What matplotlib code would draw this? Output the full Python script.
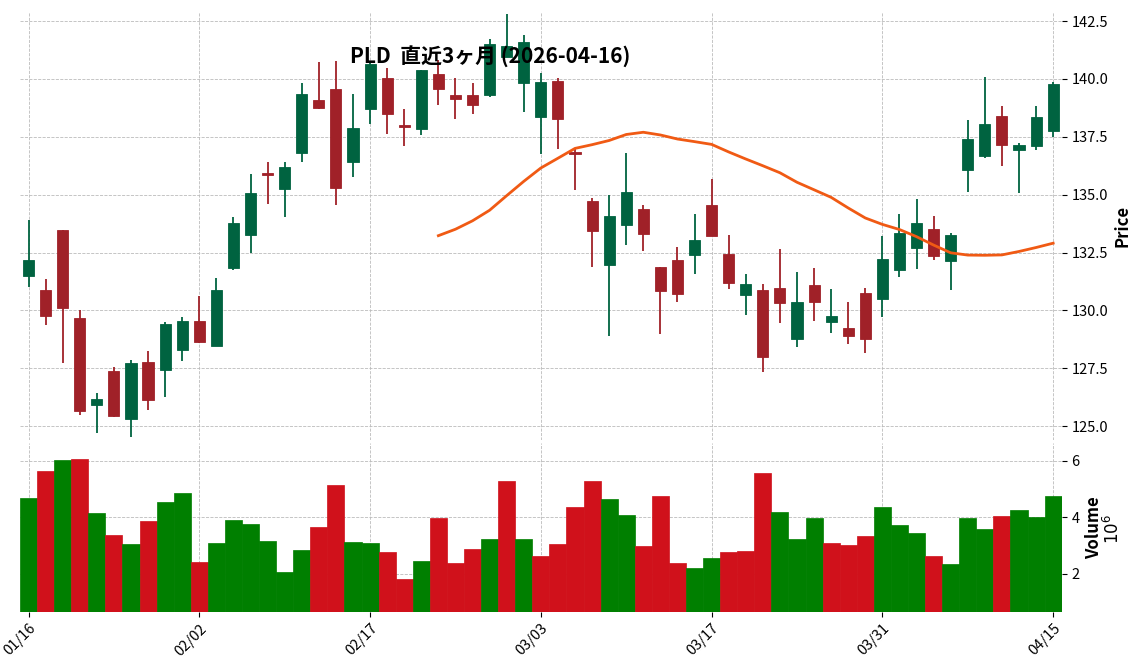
import numpy as np
import pandas as pd
import matplotlib
matplotlib.use("Agg")
import matplotlib.pyplot as plt

plt.rcParams['font.family'] = ['Noto Sans CJK JP', 'DejaVu Sans']

tick_pos = [0, 10, 20, 30, 40, 50, 60]
tick_labels = ["01/16", "02/02", "02/17", "03/03", "03/17", "03/31", "04/15"]

opens = [131.48, 130.88, 133.47, 129.66, 125.90, 127.38, 125.30, 127.76, 127.42, 128.28,
         129.54, 128.45, 131.83, 133.25, 135.92, 135.24, 136.80, 139.09, 139.56, 136.40,
         138.70, 140.04, 138.00, 137.83, 140.21, 139.30, 139.30, 139.30, 140.94, 139.82,
         138.35, 139.90, 136.84, 134.72, 131.96, 133.68, 134.38, 131.87, 132.17, 132.39,
         134.55, 132.43, 130.66, 130.88, 130.96, 128.76, 131.09, 129.49, 129.23, 130.75,
         130.49, 131.74, 132.69, 133.51, 132.13, 136.06, 136.67, 138.39, 136.93, 137.10,
         137.75]
closes = [132.17, 129.75, 130.10, 125.65, 126.17, 125.43, 127.72, 126.12, 129.40, 129.54,
          128.63, 130.88, 133.77, 135.07, 135.86, 136.19, 139.35, 138.74, 135.28, 137.88,
          140.64, 138.48, 137.92, 140.38, 139.56, 139.13, 138.87, 141.50, 141.42, 141.60,
          139.86, 138.26, 136.75, 133.42, 134.07, 135.11, 133.30, 130.83, 130.70, 133.04,
          133.21, 131.18, 131.13, 127.98, 130.31, 130.36, 130.36, 129.75, 128.89, 128.76,
          132.21, 133.34, 133.77, 132.34, 133.25, 137.40, 138.05, 137.14, 137.14, 138.35,
          139.78]
highs = [133.90, 131.35, 133.47, 130.00, 126.42, 127.55, 127.85, 128.24, 129.50, 129.70,
         130.60, 131.40, 134.03, 135.89, 136.40, 136.40, 139.82, 140.73, 140.77, 139.35,
         140.73, 140.47, 138.70, 140.38, 140.81, 140.04, 139.82, 141.72, 142.80, 141.90,
         140.25, 140.04, 136.97, 134.85, 134.98, 136.80, 134.55, 131.87, 132.73, 134.16,
         135.67, 133.25, 131.57, 131.13, 132.65, 131.65, 131.83, 130.92, 130.36, 130.96,
         133.21, 134.16, 134.81, 134.07, 133.34, 138.22, 140.08, 138.83, 137.23, 138.83,
         139.86]
lows = [131.00, 129.36, 127.72, 125.47, 124.70, 125.38, 124.52, 125.70, 126.25, 127.80,
        128.58, 128.45, 131.74, 132.47, 134.60, 134.03, 136.40, 138.70, 134.55, 135.76,
        138.05, 137.62, 137.10, 137.57, 138.87, 138.26, 138.48, 139.22, 140.94, 138.57,
        136.75, 136.97, 135.20, 131.87, 128.89, 132.82, 132.56, 128.97, 130.36, 131.57,
        133.21, 130.92, 129.79, 127.33, 129.45, 128.41, 129.54, 129.02, 128.54, 128.15,
        129.71, 131.44, 131.78, 132.17, 130.88, 135.11, 136.58, 136.23, 135.07, 136.93,
        137.49]
volumes = [4.69, 5.65, 6.04, 6.07, 4.16, 3.38, 3.06, 3.88, 4.55, 4.87,
           2.42, 3.10, 3.91, 3.77, 3.17, 2.07, 2.85, 3.66, 5.15, 3.13,
           3.10, 2.78, 1.82, 2.46, 3.98, 2.39, 2.88, 3.24, 5.29, 3.24,
           2.64, 3.06, 4.37, 5.29, 4.65, 4.09, 2.99, 4.76, 2.39, 2.21,
           2.57, 2.78, 2.81, 5.58, 4.19, 3.24, 3.98, 3.10, 3.03, 3.35,
           4.37, 3.73, 3.45, 2.64, 2.35, 3.98, 3.59, 4.05, 4.27, 4.02,
           4.76]

o = np.array(opens); c = np.array(closes); h = np.array(highs); l = np.array(lows)
x = np.arange(len(o))
mav = pd.Series(c).rolling(25).mean()

up_c, dn_c = '#006340', '#a02128'
fig = plt.figure(figsize=(11.41, 6.70), dpi=100)
ax = fig.add_axes([0.0175, 0.343, 0.913, 0.639])
axv = fig.add_axes([0.0175, 0.087, 0.913, 0.252], sharex=ax)

up = c >= o
cols = np.where(up, up_c, dn_c)
ax.vlines(x, l, h, colors=cols, linewidth=1.3, zorder=2)
ax.bar(x, np.abs(c - o), bottom=np.minimum(o, c), width=0.65, color=cols,
       edgecolor=cols, linewidth=0.6, zorder=3)
ax.plot(x, mav, color='#f05a14', linewidth=2, zorder=4)
ax.set_ylim(124.39, 142.89)
ax.set_xlim(-0.5, len(x) - 0.5)

prev = np.concatenate([[c[0] - 1], c[:-1]])
vcols = np.where(c >= prev, '#007f00', '#d0111b')
axv.bar(x, volumes, width=1.0, color=vcols, edgecolor=vcols, linewidth=0.5)
axv.set_ylim(0.655, 6.64)

for a in (ax, axv):
    for s in a.spines.values():
        s.set_visible(False)
    a.grid(True, linestyle='--', linewidth=0.6, color='#bbbbbb')
    a.set_axisbelow(True)
    a.yaxis.tick_right()
    a.yaxis.set_label_position('right')
    a.tick_params(labelsize=10.5)

ax.set_yticks([125.0, 127.5, 130.0, 132.5, 135.0, 137.5, 140.0, 142.5])
ax.yaxis.set_major_formatter(plt.FormatStrFormatter('%.1f'))
ax.tick_params(axis='x', labelbottom=False, length=0)
axv.set_yticks([2, 4, 6])
axv.set_xticks(tick_pos)
axv.set_xticklabels(tick_labels, rotation=45, ha='right', rotation_mode='anchor')

ax.set_ylabel('Price', fontsize=12, fontweight='bold', labelpad=4)
axv.set_ylabel('Volume', fontsize=12, fontweight='bold', labelpad=4)
fig.text(0.975, 0.21, r'$10^6$', rotation=90, fontsize=12, va='center', ha='center')
fig.text(0.43, 0.917, 'PLD  直近3ヶ月 (2026-04-16)', fontsize=15, fontweight='bold',
         ha='center', va='center')

fig.savefig('out.png', dpi=100)
